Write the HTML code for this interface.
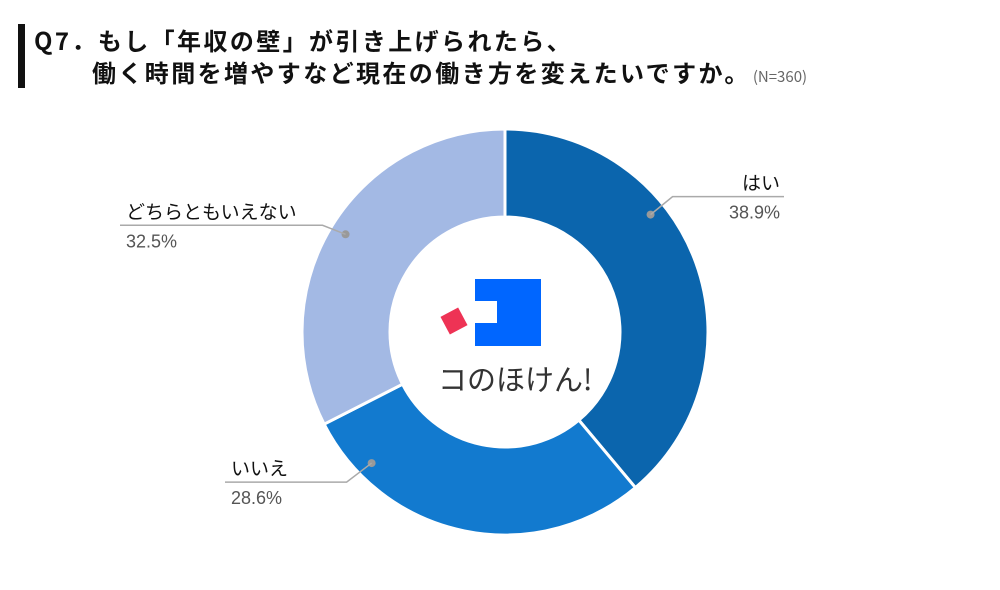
<!DOCTYPE html>
<html><head><meta charset="utf-8">
<style>
body{margin:0;width:1000px;height:590px;background:#fff;overflow:hidden;font-family:"Liberation Sans","Noto Sans CJK JP",sans-serif;}
.t{position:absolute;font-weight:bold;font-size:24px;letter-spacing:2.4px;color:#111;white-space:nowrap;font-family:"Noto Sans CJK JP","Liberation Sans",sans-serif;}
</style></head><body>
<div style="position:absolute;left:18px;top:24px;width:7px;height:64px;background:#111"></div>
<div class="t" style="left:34px;top:22px">Q7．もし「年収の壁」が引き上げられたら、</div>
<div class="t" style="left:92px;top:54px">働く時間を増やすなど現在の働き方を変えたいですか。<span style="font-size:15px;font-weight:normal;color:#666;margin-left:2px;letter-spacing:0">(N=360)</span></div>
<svg id="chart" width="1000" height="590" style="position:absolute;left:0;top:0" xmlns="http://www.w3.org/2000/svg"></svg>
<script>
const categories=["はい","いいえ","どちらともいえない"];
const values=[38.9,28.6,32.5];
const colors=["#0b65ad","#127acf","#a3b9e4"];
const dotFrac=[0.365,0.83,0.5];
const svg=document.getElementById('chart');
const NS="http://www.w3.org/2000/svg";
const cx=505,cy=332,R=203,r=115;
const total=values.reduce((a,b)=>a+b,0);
function pt(a,rad){return [cx+rad*Math.sin(a),cy-rad*Math.cos(a)];}
let a0=0;
const dots=[];
values.forEach((v,i)=>{
  const a1=a0+v/total*2*Math.PI;
  const [x0,y0]=pt(a0,R),[x1,y1]=pt(a1,R),[x2,y2]=pt(a1,r),[x3,y3]=pt(a0,r);
  const lg=(a1-a0)>Math.PI?1:0;
  const p=document.createElementNS(NS,'path');
  p.setAttribute('d',`M${x0},${y0}A${R},${R} 0 ${lg} 1 ${x1},${y1}L${x2},${y2}A${r},${r} 0 ${lg} 0 ${x3},${y3}Z`);
  p.setAttribute('fill',colors[i]);p.setAttribute('stroke','#fff');p.setAttribute('stroke-width','3');
  
  
  svg.appendChild(p);
  dots.push(a0+(a1-a0)*dotFrac[i]);
  a0=a1;
});
const elbow=[[22,-18],[-25,19],[-23,-9]];
const ends=[784,225,120];
dots.forEach((m,i)=>{
  const [dx,dy]=pt(m,187);
  const ex=dx+elbow[i][0], ey=dy+elbow[i][1];
  const right=Math.sin(m)>0;
  const hx=ends[i];
  const g=document.createElementNS(NS,'g');
  
  
  const c=document.createElementNS(NS,'circle');
  c.setAttribute('cx',dx);c.setAttribute('cy',dy);c.setAttribute('r',4);c.setAttribute('fill','#999');
  g.appendChild(c);
  const l=document.createElementNS(NS,'polyline');
  l.setAttribute('points',`${dx},${dy} ${ex},${ey} ${hx},${ey}`);
  l.setAttribute('fill','none');l.setAttribute('stroke','#aaa');l.setAttribute('stroke-width','1.5');
  g.appendChild(l);
  const tx=right?hx-4:hx+6, anchor=right?'end':'start';
  const t1=document.createElementNS(NS,'text');
  t1.setAttribute('x',tx);t1.setAttribute('y',ey-7);t1.setAttribute('text-anchor',anchor);
  t1.setAttribute('font-size','19');t1.setAttribute('fill','#111');t1.setAttribute('font-family','"Noto Sans CJK JP",sans-serif');
  t1.textContent=categories[i];
  g.appendChild(t1);
  const t2=document.createElementNS(NS,'text');
  t2.setAttribute('x',tx);t2.setAttribute('y',ey+22);t2.setAttribute('text-anchor',anchor);
  t2.setAttribute('font-size','18');t2.setAttribute('fill','#555');t2.textContent=values[i].toFixed(1)+'%';
  g.appendChild(t2);
  svg.appendChild(g);
});
</script>
<div style="position:absolute;left:475px;top:279px;width:66px;height:67px;background:#0066ff"></div>
<div style="position:absolute;left:475px;top:301px;width:22px;height:22px;background:#fff"></div>
<div style="position:absolute;left:444px;top:311px;width:20px;height:20px;background:#ee3355;transform:rotate(-28deg)"></div>
<div style="position:absolute;left:438px;top:357px;font-size:29px;color:#333;white-space:nowrap;font-family:'Noto Sans CJK JP',sans-serif">コのほけん!</div>
</body></html>
